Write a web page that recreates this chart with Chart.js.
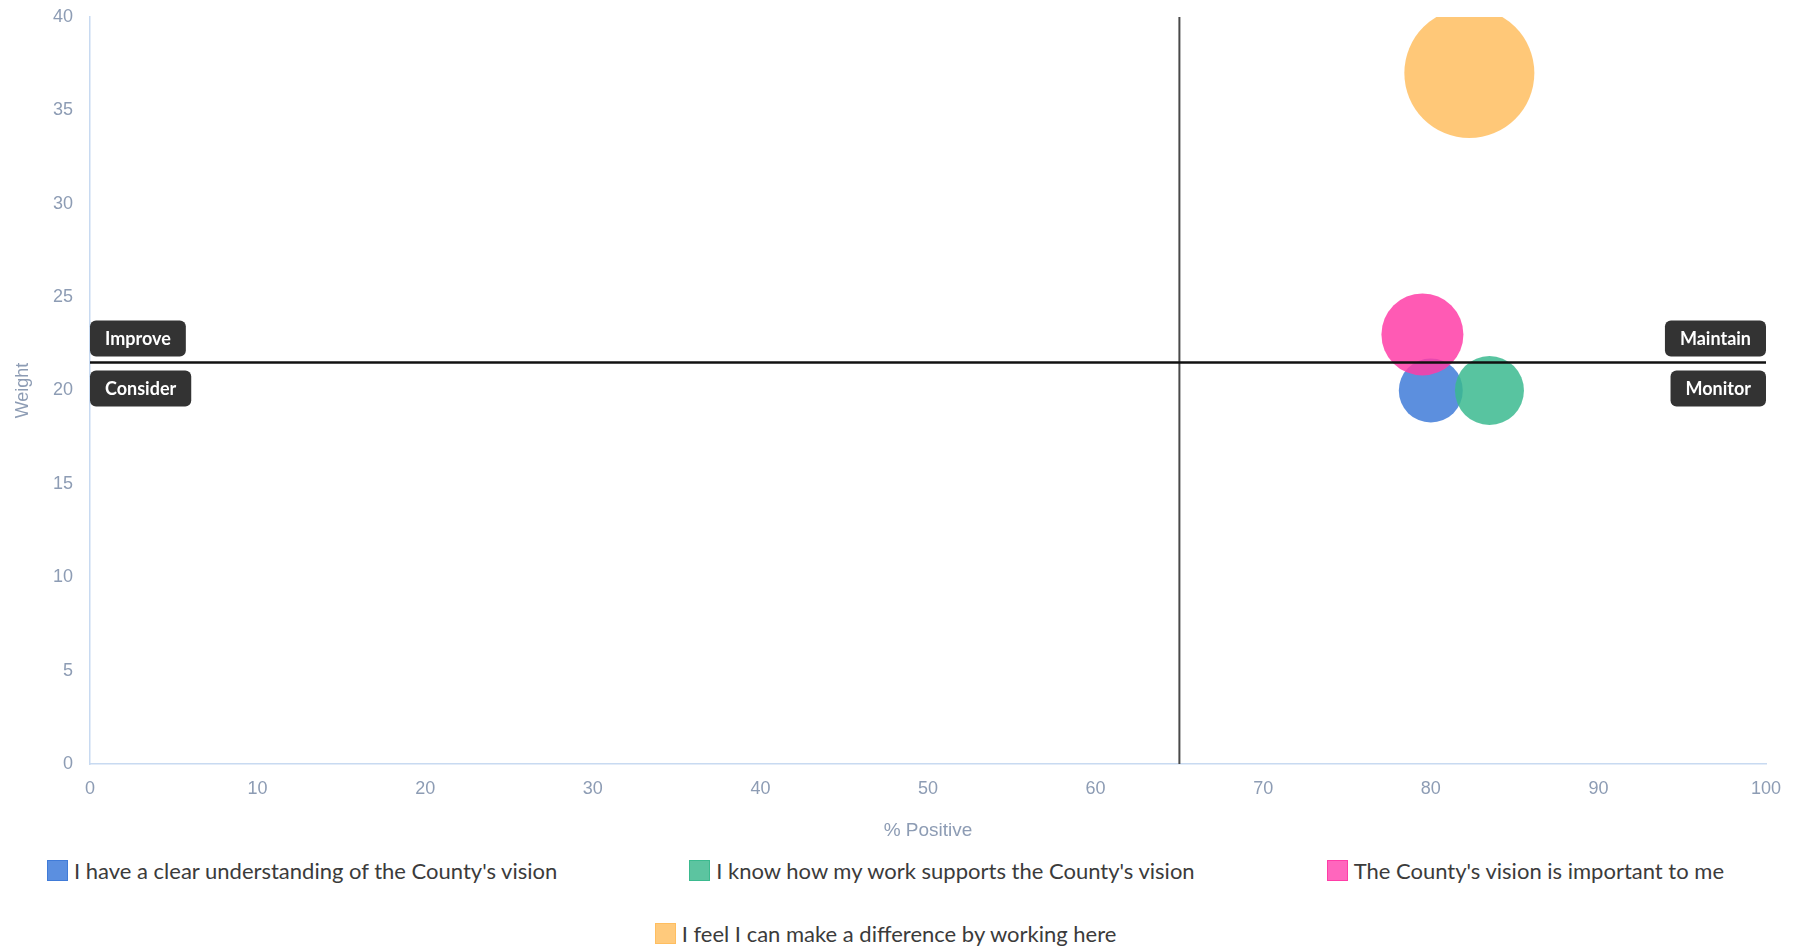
<!DOCTYPE html>
<html>
<head>
<meta charset="utf-8">
<title>Weight vs % Positive</title>
<script src="https://cdn.jsdelivr.net/npm/chart.js@4.4.1/dist/chart.umd.min.js"></script>
<style>
    html, body { margin: 0; padding: 0; background: #fff; }
    .chart-box { width: 1801px; height: 845px; position: relative; }
    .legend {
        display: flex;
        flex-wrap: wrap;
        justify-content: center;
        column-gap: 132px;
        row-gap: 37px;
        padding: 12px 30px 0 0;
        font-family: Lato, "Open Sans", sans-serif;
        font-size: 22px;
        color: #3b3b3b;
    }
    .legend-item { display: flex; align-items: center; height: 26px; white-space: nowrap; }
    .legend-box { width: 21px; height: 21px; margin-right: 6px; box-sizing: border-box; border: 1px solid; }
</style>
</head>
<body>
<div class="chart-box"><canvas id="bubbleChart"></canvas></div>
<div class="legend" id="legend"></div>

<script>
// Chart data
const statements = [
    "I have a clear understanding of the County's vision",
    "I know how my work supports the County's vision",
    "The County's vision is important to me",
    "I feel I can make a difference by working here"
];
const percentPositive = [80, 83.5, 79.5, 82.3];
const weights = [20, 20, 23, 37];
const bubbleRadius = [32, 34.5, 41, 65];
const colors = ['rgba(64,123,216,0.85)', 'rgba(59,186,143,0.85)', 'rgba(255,61,167,0.85)', 'rgba(255,190,96,0.85)'];
const legendColors = ['#5b8fe0', '#5cc4a0', '#ff66bd', '#ffca7c'];

const xDivider = 65;
const yDivider = 21.5;
const quadrants = { topLeft: 'Improve', bottomLeft: 'Consider', topRight: 'Maintain', bottomRight: 'Monitor' };

const tickColor = '#8d9cb4';
const axisColor = '#c8daf1';

// Reference lines + quadrant labels
const quadrantPlugin = {
    id: 'quadrants',
    afterDatasetsDraw(chart) {
        const { ctx, chartArea, scales: { x, y } } = chart;
        const px = x.getPixelForValue(xDivider);
        const py = y.getPixelForValue(yDivider);

        ctx.save();
        ctx.strokeStyle = '#4a4a4a';
        ctx.lineWidth = 2;
        ctx.beginPath();
        ctx.moveTo(px, chartArea.top);
        ctx.lineTo(px, chartArea.bottom);
        ctx.stroke();

        ctx.strokeStyle = '#111';
        ctx.lineWidth = 2.5;
        ctx.beginPath();
        ctx.moveTo(chartArea.left, py);
        ctx.lineTo(chartArea.right, py);
        ctx.stroke();

        ctx.font = 'bold 18px Lato, "Open Sans", sans-serif';
        ctx.textBaseline = 'middle';
        ctx.textAlign = 'center';
        const boxH = 36;
        function drawLabel(text, alignRight, above) {
            const w = ctx.measureText(text).width + 30;
            const left = alignRight ? chartArea.right - w : chartArea.left;
            const top = above ? py - 6 - boxH : py + 8;
            ctx.fillStyle = '#333';
            ctx.beginPath();
            ctx.roundRect(left, top, w, boxH, 6);
            ctx.fill();
            ctx.fillStyle = '#fff';
            ctx.fillText(text, left + w / 2, top + boxH / 2 + 1);
        }
        drawLabel(quadrants.topLeft, false, true);
        drawLabel(quadrants.bottomLeft, false, false);
        drawLabel(quadrants.topRight, true, true);
        drawLabel(quadrants.bottomRight, true, false);
        ctx.restore();
    }
};

Chart.defaults.font.family = '"Liberation Sans", Arial, sans-serif';

const datasets = statements.map((label, i) => ({
    label: label,
    data: [{ x: percentPositive[i], y: weights[i], r: bubbleRadius[i] }],
    backgroundColor: colors[i],
    borderWidth: 0,
    hoverRadius: 0,
    order: statements.length - i
}));

new Chart(document.getElementById('bubbleChart'), {
    type: 'bubble',
    data: { datasets: datasets },
    options: {
        responsive: true,
        maintainAspectRatio: false,
        animation: false,
        layout: { autoPadding: false, padding: { top: 17, right: 35, bottom: 3, left: 0 } },
        plugins: {
            legend: { display: false },
            tooltip: { enabled: false }
        },
        scales: {
            x: {
                min: 0,
                max: 100,
                ticks: { stepSize: 10, color: tickColor, padding: 14, font: { size: 18 } },
                grid: { drawOnChartArea: false, drawTicks: false },
                border: { color: axisColor, width: 1.5 },
                title: { display: true, text: '% Positive', color: tickColor, font: { size: 19 }, padding: { top: 12, bottom: 0 } },
                afterFit(scale) { scale.height = 78; }
            },
            y: {
                min: 0,
                max: 40,
                ticks: { stepSize: 5, color: tickColor, padding: 17, font: { size: 18 } },
                grid: { drawOnChartArea: false, drawTicks: false },
                border: { color: axisColor, width: 1.5 },
                title: { display: true, text: 'Weight', color: tickColor, font: { size: 18 }, padding: { top: 12, bottom: 0 } },
                afterFit(scale) {
                    scale.width = 90;
                    scale.paddingTop = 0;
                    scale.paddingBottom = 0;
                }
            }
        }
    },
    plugins: [quadrantPlugin]
});

// HTML legend
const legendEl = document.getElementById('legend');
statements.forEach((label, i) => {
    const item = document.createElement('div');
    item.className = 'legend-item';
    const box = document.createElement('span');
    box.className = 'legend-box';
    box.style.background = legendColors[i];
    box.style.borderColor = colors[i].replace('0.85', '1');
    const txt = document.createElement('span');
    txt.textContent = label;
    item.appendChild(box);
    item.appendChild(txt);
    legendEl.appendChild(item);
});
</script>
</body>
</html>
